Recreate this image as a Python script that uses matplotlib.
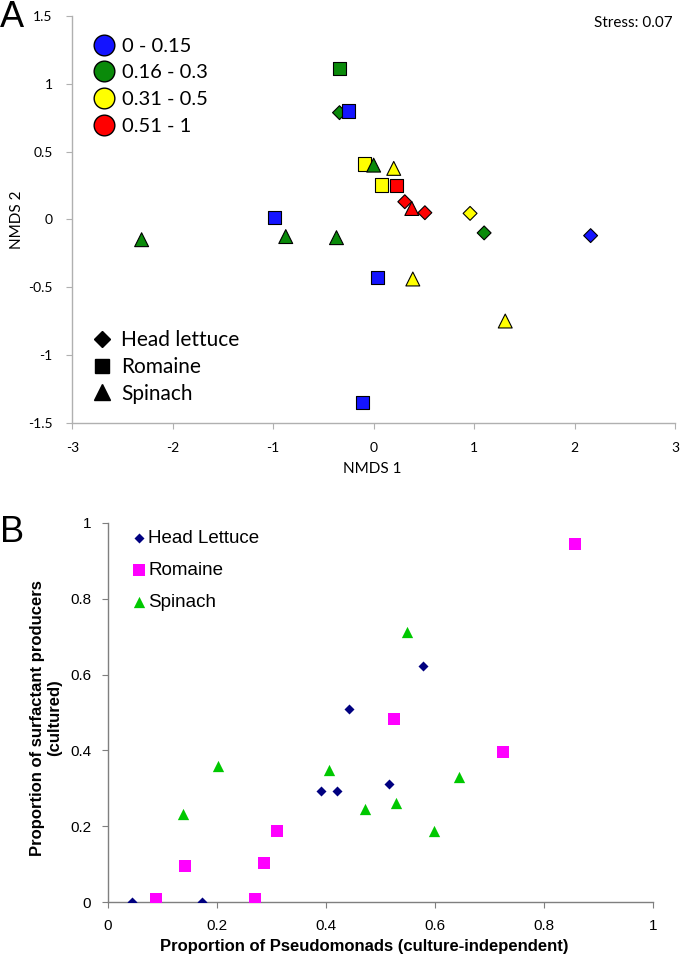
import matplotlib
matplotlib.use("Agg")
import matplotlib.pyplot as plt
from matplotlib.lines import Line2D

plt.rcParams["axes.unicode_minus"] = False

# ---- panel A data (NMDS ordination) ----
bin_labels = ["0 - 0.15", "0.16 - 0.3", "0.31 - 0.5", "0.51 - 1"]
bin_colors = ["#1414ff", "#0a8a0a", "#ffff00", "#ff0000"]

# bins: 0 = 0-0.15, 1 = 0.16-0.3, 2 = 0.31-0.5, 3 = 0.51-1
head_x = [-0.34, 0.31, 0.51, 0.96, 1.10, 2.16]
head_y = [0.787, 0.13, 0.049, 0.044, -0.10, -0.12]
head_bin = [1, 3, 3, 2, 1, 0]

rom_x = [-0.34, -0.25, -0.09, 0.08, 0.23, -0.99, 0.04, -0.11]
rom_y = [1.114, 0.80, 0.408, 0.253, 0.248, 0.015, -0.43, -1.35]
rom_bin = [1, 0, 2, 2, 3, 0, 0, 0]

spin_x = [0.0, 0.20, 0.38, -2.31, -0.875, -0.37, 0.39, 1.31]
spin_y = [0.40, 0.376, 0.08, -0.15, -0.127, -0.135, -0.44, -0.75]
spin_bin = [1, 2, 3, 1, 1, 1, 2, 2]

# ---- panel B data ----
hl_b_x = [0.044, 0.173, 0.391, 0.42, 0.442, 0.517, 0.579]
hl_b_y = [0.0, 0.0, 0.293, 0.293, 0.508, 0.311, 0.622]

rom_b_x = [0.089, 0.141, 0.271, 0.287, 0.311, 0.525, 0.725, 0.858]
rom_b_y = [0.01, 0.095, 0.01, 0.103, 0.188, 0.482, 0.397, 0.943]

sp_b_x = [0.139, 0.202, 0.406, 0.472, 0.529, 0.549, 0.598, 0.644]
sp_b_y = [0.233, 0.359, 0.348, 0.245, 0.262, 0.713, 0.187, 0.331]

W, H = 680, 959
fig = plt.figure(figsize=(W / 100, H / 100), dpi=100)

fa = "Lato"
fb = "Liberation Sans"

# ================= panel A =================
axA = fig.add_axes([72.3 / W, 1 - 422.7 / H, (675 - 72.3) / W, (422.7 - 16) / H])
for sx, sy, sb, mk, sz in [(head_x, head_y, head_bin, "D", 50),
                           (rom_x, rom_y, rom_bin, "s", 92),
                           (spin_x, spin_y, spin_bin, "^", 100)]:
    axA.scatter(sx, sy, c=[bin_colors[b] for b in sb], marker=mk, s=sz,
                edgecolors="black", linewidths=0.8, zorder=3)

axA.set_xlim(-3, 3)
axA.set_ylim(-1.5, 1.5)
axA.set_xticks([-3, -2, -1, 0, 1, 2, 3])
axA.set_yticks([-1.5, -1, -0.5, 0, 0.5, 1, 1.5])
axA.set_yticklabels(["-1.5", "-1", "-0.5", "0", "0.5", "1", "1.5"])
for s in ["top", "right"]:
    axA.spines[s].set_visible(False)
for s in ["left", "bottom"]:
    axA.spines[s].set_color("#b0b0b0")
    axA.spines[s].set_linewidth(1.0)
axA.tick_params(direction="out", length=4, color="#b0b0b0", labelsize=10, pad=10)
for lab in axA.get_xticklabels() + axA.get_yticklabels():
    lab.set_family(fa)
axA.text(0.497, -0.114, "NMDS 1", transform=axA.transAxes, ha="center", va="center",
         fontsize=11, family=fa)
axA.text(-0.091, 0.5, "NMDS 2", transform=axA.transAxes, ha="center", va="center",
         rotation=90, fontsize=11, family=fa)
axA.text(0.9967, 0.983, "Stress: 0.07", transform=axA.transAxes, ha="right", va="center",
         fontsize=11, family=fa)

bin_handles = [Line2D([], [], ls="none", marker="o", markersize=14.9, markerfacecolor=c,
                      markeredgecolor="black", markeredgewidth=1.0) for c in bin_colors]
legA1 = axA.legend(bin_handles, bin_labels, loc="upper left", bbox_to_anchor=(0.032, 0.947),
                   frameon=False, borderpad=0, handlelength=1.2, handletextpad=0.29,
                   labelspacing=0.48, prop={"family": fa, "size": 14.5}, borderaxespad=0)
axA.add_artist(legA1)

shape_handles = [Line2D([], [], ls="none", marker="D", markersize=8.5, color="black"),
                 Line2D([], [], ls="none", marker="s", markersize=10.3, color="black"),
                 Line2D([], [], ls="none", marker="^", markersize=11.3, color="black")]
axA.legend(shape_handles, ["Head lettuce", "Romaine", "Spinach"], loc="upper left",
           bbox_to_anchor=(0.0293, 0.228), frameon=False, borderpad=0, handlelength=1.2,
           handletextpad=0.29, labelspacing=0.33, prop={"family": fa, "size": 15},
           borderaxespad=0)

fig.text(0, 1, "A", ha="left", va="top", fontsize=26, family=fb)

# ================= panel B =================
axB = fig.add_axes([107.7 / W, 1 - 902.3 / H, (652.7 - 107.7) / W, (902.3 - 522.7) / H])
axB.scatter(hl_b_x, hl_b_y, marker="D", s=26, color="#000080", linewidths=0, zorder=3,
            label="Head Lettuce")
axB.scatter(rom_b_x, rom_b_y, marker="s", s=79, color="#ff00ff", linewidths=0, zorder=3,
            label="Romaine")
axB.scatter(sp_b_x, sp_b_y, marker="^", s=66, color="#00c800", linewidths=0, zorder=3,
            label="Spinach")
axB.set_xlim(0, 1)
axB.set_ylim(0, 1)
axB.set_xticks([0, 0.2, 0.4, 0.6, 0.8, 1])
axB.set_xticklabels(["0", "0.2", "0.4", "0.6", "0.8", "1"])
axB.set_yticks([0, 0.2, 0.4, 0.6, 0.8, 1])
axB.set_yticklabels(["0", "0.2", "0.4", "0.6", "0.8", "1"])
for s in ["top", "right"]:
    axB.spines[s].set_visible(False)
for s in ["left", "bottom"]:
    axB.spines[s].set_color("#7f7f7f")
    axB.spines[s].set_linewidth(1.0)
axB.tick_params(direction="out", length=4, color="#7f7f7f", labelsize=11, pad=8)
for lab in axB.get_xticklabels() + axB.get_yticklabels():
    lab.set_family(fb)
axB.text(0.470, -0.117, "Proportion of Pseudomonads (culture-independent)",
         transform=axB.transAxes, ha="center", va="center", fontsize=12,
         fontweight="bold", family=fb)
axB.text(-0.113, 0.486, "Proportion of surfactant producers\n(cultured)",
         transform=axB.transAxes, ha="center", va="center", rotation=90, fontsize=12,
         fontweight="bold", family=fb, multialignment="center", linespacing=1.2)
axB.legend(loc="upper left", bbox_to_anchor=(0.0477, 0.98), frameon=False, borderpad=0,
           handlelength=0.6, handletextpad=0.18, labelspacing=0.78,
           prop={"family": fb, "size": 13.5}, borderaxespad=0, scatterpoints=1)

fig.text(0, 1 - 515 / H, "B", ha="left", va="top", fontsize=26, family=fb)

fig.savefig("out.png", dpi=100)
